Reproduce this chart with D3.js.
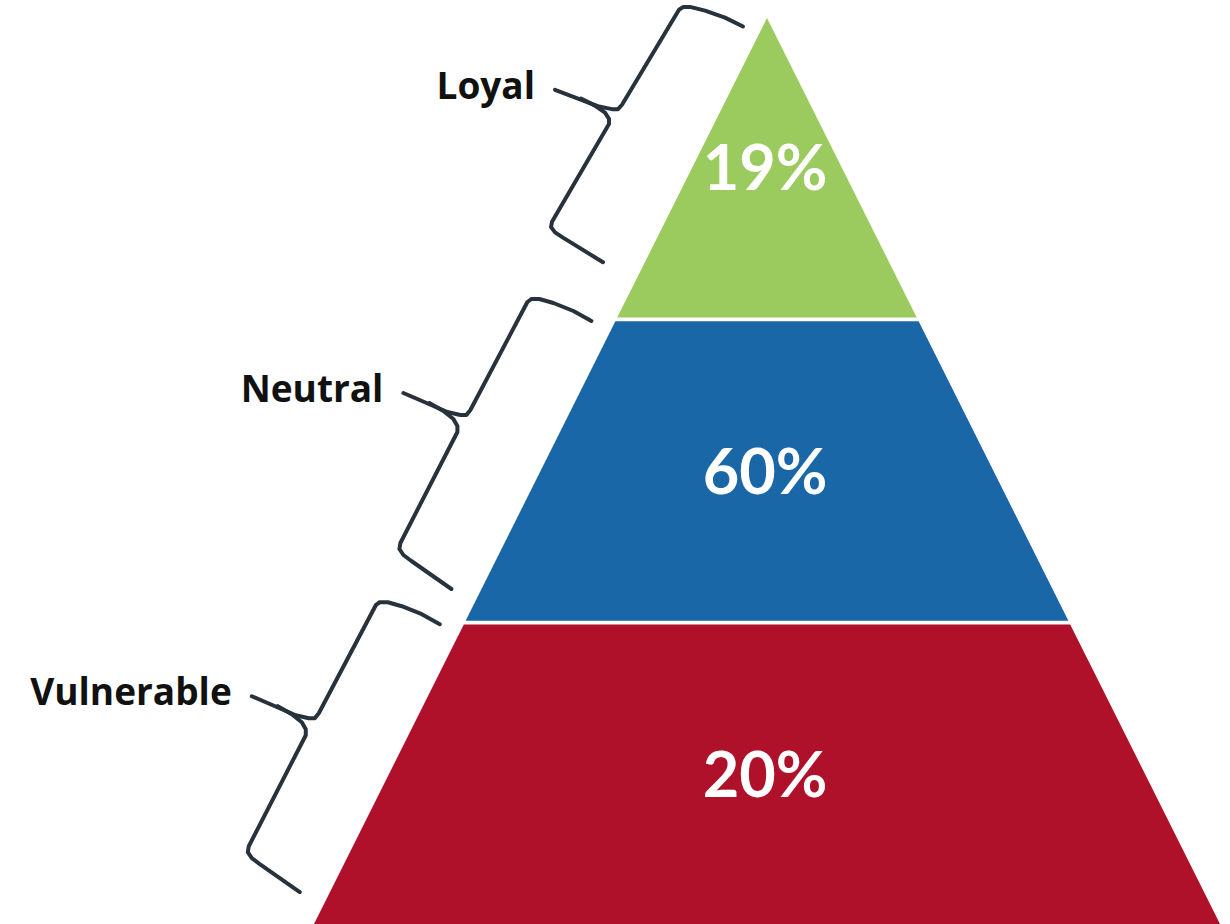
<!DOCTYPE html>
<html>
<head>
<meta charset="utf-8">
<script src="https://cdn.jsdelivr.net/npm/d3@7"></script>
<style>
  html, body { margin: 0; padding: 0; background: #ffffff; }
  svg { display: block; }
</style>
</head>
<body>
<div id="chart"></div>
<script>
// Customer segments, top of the pyramid first
const levels = ["Loyal", "Neutral", "Vulnerable"];
const shares = [19, 60, 20];
const shareLabels = ["19%", "60%", "20%"];
const levelColors = ["#9BCA5F", "#1A67A8", "#B0112A"];

const W = 1230, H = 924;
const apexY = 18, baseY = 924, cx = 767, baseHalf = 453;

const svg = d3.select("#chart").append("svg")
  .attr("width", W).attr("height", H);

// each tier gets an equal slice of the pyramid height
const yBand = d3.scaleBand().domain(levels).range([apexY, baseY]).paddingInner(0.012);
// half-width of the pyramid at a given height
const halfW = d3.scaleLinear().domain([apexY, baseY]).range([0, baseHalf]);

const tiers = levels.map((name, i) => {
  const y0 = yBand(name), y1 = y0 + yBand.bandwidth();
  return { name, share: shares[i], label: shareLabels[i], color: levelColors[i], y0, y1 };
});

const poly = d3.line();

svg.append("g").selectAll("path.tier")
  .data(tiers).join("path")
  .attr("class", "tier")
  .attr("fill", d => d.color)
  .attr("d", d => poly([
    [cx - halfW(d.y0), d.y0], [cx + halfW(d.y0), d.y0],
    [cx + halfW(d.y1), d.y1], [cx - halfW(d.y1), d.y1]
  ]) + "Z");

// percentage labels centred in each tier
const pctSize = 63;
svg.append("g").selectAll("text.pct")
  .data(tiers).join("text")
  .attr("class", "pct")
  .attr("x", cx - 2)
  .attr("y", d => (d.y0 + d.y1) / 2 + pctSize * 0.36)
  .attr("text-anchor", "middle")
  .attr("font-family", "Lato, 'Open Sans', sans-serif")
  .attr("font-weight", 700)
  .attr("font-size", pctSize)
  .attr("fill", "#ffffff")
  .text(d => d.label);

// curly brace shape, relative to its point (tip); two strokes with straight arms
const braceUpper = [[188, -72], [170, -82], [150, -90], [136, -94], [128, -94], [124, -91],
                    [67, 17], [63, 22], [57, 22], [44, 19], [0, 0]];
const braceLower = [[26, 10], [40, 18], [50, 26], [54, 33], [54, 39],
                    [-3, 150], [-4, 156], [0, 162], [8, 168], [48, 196]];
const braceLine = d3.line();

const braceG = svg.append("g")
  .attr("fill", "none")
  .attr("stroke", "#28323C")
  .attr("stroke-width", 4)
  .attr("stroke-linecap", "round")
  .attr("stroke-linejoin", "round");

tiers.forEach((d, i) => {
  const mid = (d.y0 + d.y1) / 2;
  const tip = [cx - halfW(d.y0) - 212, mid - 78];
  const sy = i === 0 ? 0.88 : 1;
  const place = pts => pts.map(p => [tip[0] + p[0], tip[1] + p[1] * sy]);
  braceG.append("path").attr("d", braceLine(place(braceUpper)));
  braceG.append("path").attr("d", braceLine(place(braceLower)));

  svg.append("text")
    .attr("x", tip[0] - 20)
    .attr("y", tip[1] + 9)
    .attr("text-anchor", "end")
    .attr("font-family", "'Open Sans', Lato, sans-serif")
    .attr("font-weight", 700)
    .attr("font-size", 37)
    .attr("fill", "#111111")
    .text(d.name);
});
</script>
</body>
</html>
